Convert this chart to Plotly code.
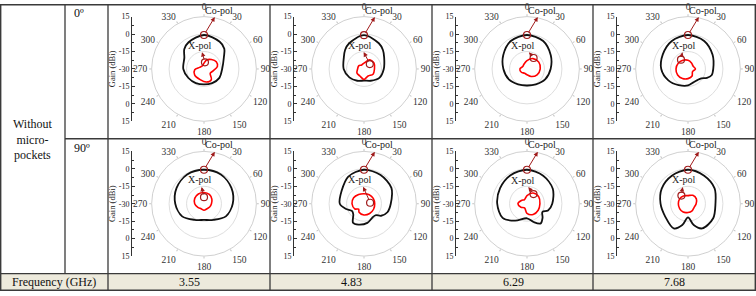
import math
import plotly.graph_objects as go

W, H = 756, 296
FONT = "Liberation Serif"

# ---------------- data ----------------
frequencies = ["3.55", "4.83", "6.29", "7.68"]
row_labels = ["0º", "90º"]
side_label = "Without<br>micro-<br>pockets"
freq_title = "Frequency (GHz)"
gain_tickvals = [-45, -30, -15, 0, 15, 30, 45]
gain_ticktext = ["15", "0", "-15", "-30", "-15", "0", "15"]
angle_ticks = list(range(0, 360, 30))
radial_range = [-30, 15]

# Row 1 (0º) -- co-pol (black) and x-pol (red), gain in dBi vs angle in deg
theta_co_11 = [0, 30, 45, 60, 90, 120, 150, 180, 210, 240, 270, 300, 315, 330]
gain_co_11 = [-0.8, -3, -5.3, -10.3, -14.4, -14.7, -16, -16.7, -16, -14.5, -12.2, -10.5, -6, -3.5]
theta_x_11 = [0, 16, 38, 60, 80, 102, 125, 145, 169, 200, 238, 265, 290, 330]
gain_x_11 = [-25, -22, -19.7, -17.8, -18.3, -22, -23.5, -18.9, -18.6, -20.3, -20.5, -22, -26, -27]

theta_co_12 = [0, 30, 45, 60, 90, 120, 150, 180, 210, 240, 270, 300, 315, 330]
gain_co_12 = [-1, -4.5, -7, -10, -13, -14.7, -18.3, -20, -18.3, -15.5, -12.5, -10, -7, -4.5]
theta_x_12 = [0, 30, 60, 90, 120, 150, 180, 210, 240, 270, 300, 330]
gain_x_12 = [-25, -21, -20, -21, -21, -23, -21, -23, -23, -24.5, -24.7, -26]

theta_co_13 = [0, 30, 60, 90, 120, 150, 180, 210, 240, 270, 300, 330]
gain_co_13 = [-0.8, -2.2, -6.4, -9.7, -12, -14.7, -15.8, -14.7, -12, -9.7, -6.4, -2.2]
theta_x_13 = [0, 30, 60, 90, 120, 150, 180, 210, 240, 270, 300, 330]
gain_x_13 = [-22.8, -19.7, -18.3, -18.6, -20, -22.5, -25, -25.8, -24.4, -23.9, -25.8, -25]

theta_co_14 = [0, 30, 60, 90, 105, 115, 125, 140, 160, 180, 210, 240, 270, 300, 330]
gain_co_14 = [-0.8, -2.2, -5.6, -8.3, -9, -12, -16, -17.5, -17.5, -15.8, -14, -10.5, -7, -5, -2.2]
theta_x_14 = [0, 30, 60, 90, 120, 150, 180, 210, 240, 270, 300, 330]
gain_x_14 = [-22.5, -24, -25, -23.6, -25.5, -23, -21.7, -20.5, -19.7, -19.7, -20.3, -21.4]

# Row 2 (90º)
theta_co_21 = [0, 30, 60, 90, 120, 150, 180, 210, 240, 270, 300, 330]
gain_co_21 = [-0.8, -1, -2.8, -5.3, -8.3, -14, -16.1, -14, -8.3, -5.3, -2.8, -1]
theta_x_21 = [0, 30, 60, 90, 120, 150, 180, 210, 240, 270, 300, 330]
gain_x_21 = [-20.3, -20.8, -22.2, -23.6, -24.4, -25, -24.4, -25, -23.9, -22, -20.8, -20.3]

theta_co_22 = [0, 30, 60, 90, 110, 125, 135, 150, 170, 195, 210, 225, 238, 255, 270, 300, 330]
gain_co_22 = [-0.8, -1.5, -2.8, -7, -8.6, -12, -16, -16, -13.3, -11.4, -11.1, -17, -18, -13.6, -9.2, -7.8, -3]
theta_x_22 = [0, 30, 60, 90, 120, 150, 180, 210, 225, 240, 270, 300, 330]
gain_x_22 = [-21.4, -21, -20.8, -20.8, -20.5, -20.3, -20.3, -21.5, -23.5, -21, -19.7, -19.7, -20.8]

theta_co_23 = [0, 30, 60, 90, 108, 118, 132, 145, 160, 180, 215, 240, 270, 300, 330]
gain_co_23 = [-0.8, -2.2, -4.4, -8.3, -11, -15, -12, -9.4, -13.3, -17.5, -12.2, -5.8, -4.4, -3.3, -1.7]
theta_x_23 = [0, 30, 60, 90, 120, 150, 180, 210, 240, 270, 300, 330]
gain_x_23 = [-23, -19.4, -18.3, -18.9, -18.9, -19.4, -21.7, -25.8, -24, -22.2, -24.4, -25.8]

theta_co_24 = [0, 30, 60, 90, 120, 150, 165, 180, 195, 210, 240, 270, 300, 330]
gain_co_24 = [-0.8, -2.2, -3.6, -6.4, -5, -5.5, -11, -18.3, -11, -5.5, -7.5, -6.4, -3.9, -2.2]
theta_x_24 = [0, 30, 60, 90, 120, 150, 180, 210, 240, 270, 300, 330]
gain_x_24 = [-23, -21.7, -21.7, -23, -23.9, -23, -22.5, -21.7, -21.7, -21.7, -21.7, -22.2]

# X-pol marker (angle deg, gain dBi) per panel
xpol_mark_theta = [8, 50, 31, 323, 0, 81, 34, 321]
xpol_mark_gain = [-24.2, -23.5, -19, -20, -24.4, -24.7, -20, -21]

panels = [
    (theta_co_11, gain_co_11, theta_x_11, gain_x_11),
    (theta_co_12, gain_co_12, theta_x_12, gain_x_12),
    (theta_co_13, gain_co_13, theta_x_13, gain_x_13),
    (theta_co_14, gain_co_14, theta_x_14, gain_x_14),
    (theta_co_21, gain_co_21, theta_x_21, gain_x_21),
    (theta_co_22, gain_co_22, theta_x_22, gain_x_22),
    (theta_co_23, gain_co_23, theta_x_23, gain_x_23),
    (theta_co_24, gain_co_24, theta_x_24, gain_x_24),
]

# ---------------- layout geometry (pixels) ----------------
polar_cx = [204, 364, 527, 688]
row_cy = [67, 206]
gain_x = [132, 294, 456, 617]
R = 54
cell_centers = [189, 351, 513, 674]
MARK = "#A01B1B"


def px(x):
    return x / W


def py(y):
    return 1 - y / H


def to_px(cx, cy, theta, gain):
    rr = (gain - radial_range[0]) / (radial_range[1] - radial_range[0]) * R
    t = math.radians(theta)
    return cx + rr * math.sin(t), cy - rr * math.cos(t)


fig = go.Figure()
layout = dict(
    width=W, height=H, margin=dict(l=0, r=0, t=0, b=0),
    paper_bgcolor="white", plot_bgcolor="white", showlegend=False,
    font=dict(family=FONT, color="#222"),
)
annotations = []
shapes = []

for i, (tc, gc, tx, gx) in enumerate(panels):
    row, col = divmod(i, 4)
    cx, cy = polar_cx[col], row_cy[row]
    sub = "polar" if i == 0 else f"polar{i+1}"
    fig.add_trace(go.Scatterpolar(
        theta=tc + [tc[0]], r=gc + [gc[0]], mode="lines", subplot=sub,
        line=dict(color="#111111", width=1.8, shape="spline", smoothing=0.9),
        hoverinfo="skip"))
    fig.add_trace(go.Scatterpolar(
        theta=tx + [tx[0]], r=gx + [gx[0]], mode="lines", subplot=sub,
        line=dict(color="#FF0000", width=1.6, shape="spline", smoothing=0.9),
        hoverinfo="skip"))
    fig.add_trace(go.Scatterpolar(
        theta=[tc[0], xpol_mark_theta[i]], r=[gc[0], xpol_mark_gain[i]],
        mode="markers", subplot=sub, hoverinfo="skip",
        marker=dict(symbol="circle-open", size=7, color=MARK, line=dict(width=1.2, color=MARK))))
    layout[sub] = dict(
        domain=dict(x=[px(cx - R), px(cx + R)], y=[py(cy + R), py(cy - R)]),
        bgcolor="white",
        angularaxis=dict(rotation=90, direction="clockwise", tickmode="array",
                         tickvals=angle_ticks, ticktext=[str(a) for a in angle_ticks],
                         showgrid=False, linecolor="#c4c4c4", linewidth=0.8,
                         ticks="outside", ticklen=2, tickcolor="#c4c4c4",
                         tickfont=dict(size=9.5, family=FONT, color="#333")),
        radialaxis=dict(range=radial_range, tickvals=[-15, 0], showticklabels=False,
                        ticks="", showline=False, gridcolor="#dedede", gridwidth=0.7),
    )
    # gain axis
    n = i + 1
    xa = "xaxis" if n == 1 else f"xaxis{n}"
    ya = "yaxis" if n == 1 else f"yaxis{n}"
    xr = "x" if n == 1 else f"x{n}"
    yr = "y" if n == 1 else f"y{n}"
    gx0 = gain_x[col]
    layout[xa] = dict(domain=[px(gx0), px(gx0 + 1)], visible=False, range=[0, 1], anchor=yr)
    layout[ya] = dict(domain=[py(cy + R), py(cy - R)], anchor=xr, range=[-45, 45],
                      tickmode="array", tickvals=gain_tickvals, ticktext=gain_ticktext,
                      ticks="inside", ticklen=3, tickcolor="#333", showline=True,
                      linecolor="#333", linewidth=1, showgrid=False, zeroline=False,
                      minor=dict(tickvals=[-37.5, -22.5, -7.5, 7.5, 22.5, 37.5],
                                 ticks="inside", ticklen=1.5, tickcolor="#333"),
                      tickfont=dict(size=8, family=FONT, color="#222"),
                      title=dict(text="Gain (dBi)", font=dict(size=8.5, family=FONT, color="#222"),
                                 standoff=1))
    fig.add_trace(go.Scatter(x=[0.5], y=[0], xaxis=xr, yaxis=yr, mode="markers",
                             marker=dict(opacity=0), hoverinfo="skip"))

    # Co-pol label + arrow
    mx, my = to_px(cx, cy, tc[0], gc[0])
    lx, ly = cx + 15, cy - 60
    annotations.append(dict(
        x=px(mx), y=py(my), xref="paper", yref="paper", text="Co-pol",
        ax=lx - mx, ay=ly - my, showarrow=True, arrowside="start",
        startarrowhead=2, startarrowsize=0.9, arrowwidth=1, arrowcolor=MARK,
        standoff=3, font=dict(size=10, family=FONT, color="#222")))
    # X-pol label + arrow
    mx, my = to_px(cx, cy, xpol_mark_theta[i], xpol_mark_gain[i])
    lx, ly = cx - 4, cy - 24
    annotations.append(dict(
        x=px(mx), y=py(my), xref="paper", yref="paper", text="X-pol",
        ax=lx - mx, ay=ly - my, showarrow=True, arrowside="start",
        startarrowhead=2, startarrowsize=0.9, arrowwidth=1, arrowcolor=MARK,
        standoff=3, font=dict(size=10, family=FONT, color="#222")))

# ---------------- table ----------------
LC = "#3a3a3a"
shapes.append(dict(type="rect", xref="paper", yref="paper", x0=px(0), x1=px(756),
                   y0=py(296), y1=py(278), fillcolor="#EDEADC", line=dict(width=0), layer="below"))
for (x0, y0, x1, y1) in [(65, 0, 65, 278), (108, 0, 108, 296), (270, 0, 270, 296),
                         (432, 0, 432, 296), (593, 0, 593, 296),
                         (65, 139, 756, 139), (0, 278, 756, 278)]:
    shapes.append(dict(type="line", xref="paper", yref="paper", x0=px(x0), x1=px(x1),
                       y0=py(y0), y1=py(y1), line=dict(color=LC, width=1.3)))
shapes.append(dict(type="rect", xref="paper", yref="paper", x0=px(0.7), x1=px(755.3),
                   y0=py(295.3), y1=py(0.7), line=dict(color=LC, width=1.4)))


def label(x, y, text, xanchor="center"):
    annotations.append(dict(x=px(x), y=py(y), xref="paper", yref="paper", text=text,
                            xanchor=xanchor, yanchor="middle", showarrow=False,
                            align="center", font=dict(size=12, family=FONT, color="#111")))


label(32.5, 140, side_label)
for k, lab in enumerate(row_labels):
    label(72, [9, 148][k], lab, xanchor="left")
label(54, 287, freq_title)
for k, f in enumerate(frequencies):
    label(cell_centers[k], 287, f)

layout["annotations"] = annotations
layout["shapes"] = shapes
fig.update_layout(**layout)
fig.write_html("out.html")
